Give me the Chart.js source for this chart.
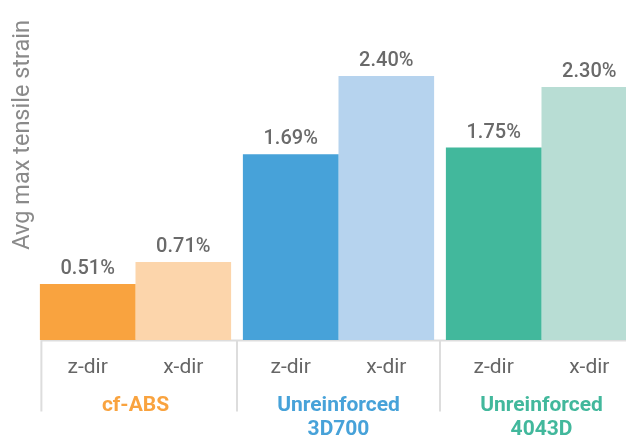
<!DOCTYPE html>
<html><head><meta charset="utf-8">
<script src="https://cdn.jsdelivr.net/npm/chart.js@4.4.0/dist/chart.umd.min.js"></script>
<style>
html,body{margin:0;padding:0;overflow:hidden;background:#fff;}
#wrap{position:relative;width:643px;height:440px;}
</style></head><body>
<div id="wrap"><canvas id="c"></canvas></div>
<script>
const groupLabels = [['cf-ABS'], ['Unreinforced', '3D700'], ['Unreinforced', '4043D']];
const dirLabels = ['z-dir', 'x-dir', 'z-dir', 'x-dir', 'z-dir', 'x-dir'];
const zDir = [0.51, 1.69, 1.75];
const xDir = [0.71, 2.40, 2.30];
const strongColors = ['#F9A33F', '#47A2D9', '#42B89C'];
const lightColors = ['#FCD5AB', '#B6D3EE', '#B8DDD4'];
const yTitle = 'Avg max tensile strain';

const CAT_PCT = 0.942;

const decor = {
  id: 'decor',
  beforeDatasetsDraw(chart) {
    const {ctx, chartArea, scales: {x}} = chart;
    const step = x.getPixelForValue(1) - x.getPixelForValue(0);
    const first = chart.getDatasetMeta(0).data[0];
    const leftX = first.x - first.width / 2 + 1.5;
    ctx.save();
    ctx.strokeStyle = '#dddddd';
    ctx.lineWidth = 2;
    ctx.beginPath();
    ctx.moveTo(leftX - 1, chartArea.bottom + 0.5);
    ctx.lineTo(chart.width, chartArea.bottom + 0.5);
    for (let i = 0; i < groupLabels.length; i++) {
      const bx = i === 0 ? leftX : x.getPixelForValue(i) - step / 2;
      ctx.moveTo(bx, chartArea.bottom);
      ctx.lineTo(bx, chartArea.bottom + 71.5);
    }
    ctx.stroke();
    ctx.restore();
  },
  afterDatasetsDraw(chart) {
    const {ctx} = chart;
    ctx.save();
    ctx.font = '500 20px Roboto';
    ctx.fillStyle = '#6a6a6a';
    ctx.textAlign = 'center';
    ctx.textBaseline = 'alphabetic';
    chart.data.datasets.forEach((ds, di) => {
      chart.getDatasetMeta(di).data.forEach((bar, i) => {
        ctx.fillText(ds.data[i].toFixed(2) + '%', bar.x, bar.y - 10);
      });
    });
    ctx.restore();
  }
};

new Chart(document.getElementById('c'), {
  type: 'bar',
  data: {
    labels: groupLabels,
    datasets: [
      {label: 'z-dir', data: zDir, xAxisID: 'x', yAxisID: 'y', backgroundColor: strongColors, categoryPercentage: CAT_PCT, barPercentage: 1},
      {label: 'x-dir', data: xDir, xAxisID: 'x', yAxisID: 'y', backgroundColor: lightColors, categoryPercentage: CAT_PCT, barPercentage: 1}
    ]
  },
  options: {
    responsive: true,
    maintainAspectRatio: false,
    animation: false,
    layout: {padding: {top: 20, left: 0, right: 0, bottom: 0}},
    plugins: {legend: {display: false}, tooltip: {enabled: false}},
    scales: {
      x: {
        type: 'category', position: 'bottom', weight: 1,
        grid: {display: false, drawTicks: false},
        border: {display: false},
        ticks: {
          autoSkip: false, maxRotation: 0, padding: -1.5,
          font: {family: 'Roboto', size: 21, weight: 'bold', lineHeight: 1.143},
          color: (c) => strongColors[c.index]
        }
      },
      x2: {
        type: 'linear', position: 'bottom', weight: 0,
        min: -0.5, max: 2.5, offset: false,
        grid: {display: false, drawTicks: false},
        border: {display: false},
        afterBuildTicks(axis) {
          const t = [];
          for (let i = 0; i < zDir.length; i++) {
            t.push({value: i - CAT_PCT / 4});
            t.push({value: i + CAT_PCT / 4});
          }
          axis.ticks = t;
        },
        ticks: {
          autoSkip: false, maxRotation: 0, padding: 14.9, color: '#666666',
          font: {family: 'Roboto', size: 21},
          callback: (v, i) => dirLabels[i]
        }
      },
      y: {
        min: 0, max: 2.91,
        grid: {display: false, drawTicks: false},
        border: {display: false},
        ticks: {display: false},
        title: {
          display: true, text: yTitle, align: 'end', color: '#8a8a8a',
          font: {family: 'Roboto', size: 23.5, lineHeight: 1}, padding: {top: 11, bottom: -0.5}
        }
      }
    }
  },
  plugins: [decor]
});
</script>
</body></html>
